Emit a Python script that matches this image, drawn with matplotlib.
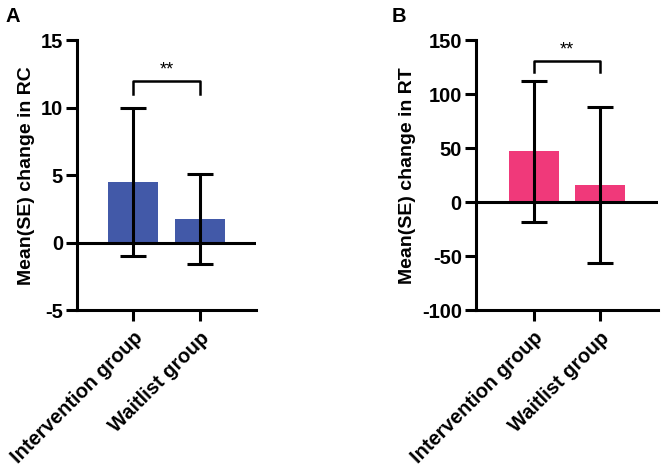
import matplotlib
matplotlib.use("Agg")
import matplotlib.pyplot as plt

plt.rcParams['font.family'] = ['Liberation Sans', 'DejaVu Sans']
plt.rcParams['font.weight'] = 'bold'
plt.rcParams['axes.unicode_minus'] = False

groups = ["Intervention group", "Waitlist group"]

rc_mean = [4.5, 1.75]
rc_se = [5.5, 3.35]

rt_mean = [47, 16]
rt_se = [65, 72]

BLUE = "#4259A8"
PINK = "#F0397A"
LW = 2.2


def panel(ax, means, errs, color, ylim, yticks, ylabel, bracket, star_y, xlim):
    x = list(range(len(means)))
    ax.bar(x, means, width=0.75, color=color, zorder=1)
    ax.errorbar(x, means, yerr=errs, fmt="none", ecolor="black",
                elinewidth=LW, capsize=9.5, capthick=LW, zorder=3)
    ax.axhline(0, color="black", lw=LW, zorder=2)
    ax.set_xlim(*xlim)
    ax.set_ylim(*ylim)
    ax.set_yticks(yticks)
    ax.set_xticks(x)
    ax.set_xticklabels(groups, rotation=45, ha="right", rotation_mode="anchor",
                       fontsize=14, fontweight="bold")
    ax.tick_params(axis="both", width=LW, length=8, labelsize=14.5, pad=2)
    ax.tick_params(axis="x", pad=5)
    for lab in ax.get_yticklabels():
        lab.set_fontweight("bold")
    for s in ["top", "right"]:
        ax.spines[s].set_visible(False)
    for s in ["left", "bottom"]:
        ax.spines[s].set_linewidth(LW)
    ax.set_ylabel(ylabel, fontsize=14, fontweight="bold", labelpad=4)
    # significance bracket
    top, leg = bracket
    ax.plot([0, 0, 1, 1], [leg, top, top, leg], color="black", lw=1.8,
            clip_on=False, zorder=4)
    ax.text(0.5, star_y, "**", ha="center", va="center", fontsize=13,
            fontweight="normal")


fig = plt.figure(figsize=(6.61, 4.69), dpi=100)
ax1 = fig.add_axes([0.1165, 0.3384, 0.271, 0.5763])
ax2 = fig.add_axes([0.7197, 0.3384, 0.2758, 0.5763])

panel(ax1, rc_mean, rc_se, BLUE, (-5, 15), [-5, 0, 5, 10, 15],
      "Mean(SE) change in RC", (12, 11), 12.8, (-0.836, 1.836))
panel(ax2, rt_mean, rt_se, PINK, (-100, 150), [-100, -50, 0, 50, 100, 150],
      "Mean(SE) change in RT", (131, 120), 141, (-0.87, 1.87))

fig.text(0.009, 0.964, "A", fontsize=14.5, fontweight="bold", va="center", ha="left")
fig.text(0.593, 0.964, "B", fontsize=14.5, fontweight="bold", va="center", ha="left")

fig.savefig("out.png", dpi=100)
